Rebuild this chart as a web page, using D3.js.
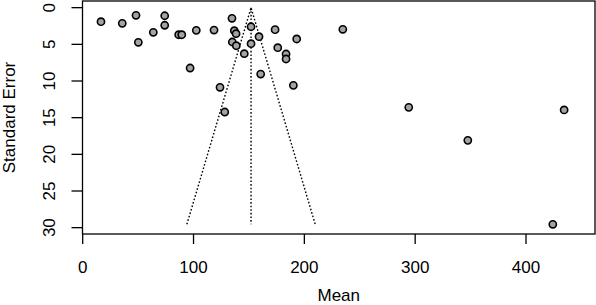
<!DOCTYPE html>
<html>
<head>
<meta charset="utf-8">
<script src="https://cdn.jsdelivr.net/npm/d3@7"></script>
<style>
  body { margin: 0; background: #fff; }
  text { font-family: "Liberation Sans", Arial, sans-serif; fill: #000; }
</style>
</head>
<body>
<div id="chart"></div>
<script>
// study means and standard errors
var means = [16.5, 35.7, 48.1, 50.2, 63.7, 74.0, 74.0, 86.6, 89.4, 96.9,
  102.5, 118.5, 123.9, 128.2, 134.7, 136.8, 138.4, 135.0, 138.6, 145.8,
  151.9, 151.9, 159.1, 160.6, 173.6, 176.0, 183.5, 183.5, 190.1, 193.1,
  234.7, 294.2, 347.5, 434.4, 424.2]
var stdErrors = [1.91, 2.13, 1.04, 4.72, 3.36, 1.10, 2.40, 3.69, 3.69, 8.23,
  3.09, 3.05, 10.86, 14.23, 1.45, 3.14, 3.55, 4.68, 5.19, 6.28,
  2.60, 4.91, 3.96, 9.05, 3.00, 5.46, 6.32, 7.00, 10.59, 4.27,
  2.95, 13.59, 18.09, 13.95, 29.54]

var pooled = [151.9]       // summary estimate (centre line)
var seMax = [29.54]        // funnel reaches down to the largest SE
var xTicks = [0, 100, 200, 300, 400]
var yTicks = [0, 5, 10, 15, 20, 25, 30]

var width = 596, height = 305
var box = {left: 82.5, right: 595, top: 1, bottom: 234}

var svg = d3.select("#chart").append("svg")
  .attr("width", width)
  .attr("height", height)

var xScale = d3.scaleLinear()
  .domain([0, 400])
  .range([82.7, 526])

var yScale = d3.scaleLinear()
  .domain([0, 30])
  .range([7.67, 227.67])

var points = means.map(function(d, i) { return {m: d, se: stdErrors[i]} })

// funnel lines
var z = 1.96
var funnel = [
  [[pooled[0] - z * seMax[0], seMax[0]], [pooled[0], 0], [pooled[0] + z * seMax[0], seMax[0]]],
  [[pooled[0], 0], [pooled[0], seMax[0]]]
]
var line = d3.line()
  .x(function(d) { return xScale(d[0]) })
  .y(function(d) { return yScale(d[1]) })

svg.selectAll("path.funnel")
  .data(funnel)
  .enter()
  .append("path")
    .attr("class", "funnel")
    .attr("d", line)
    .style("fill", "none")
    .style("stroke", "#000")
    .style("stroke-width", 1.4)
    .style("stroke-dasharray", "1.6,2")

// points
svg.selectAll("circle")
  .data(points)
  .enter()
  .append("circle")
    .attr("cx", function(d) { return xScale(d.m) })
    .attr("cy", function(d) { return yScale(d.se) })
    .attr("r", 3.6)
    .style("fill", "#a3a3a3")
    .style("stroke", "#000")
    .style("stroke-width", 1.6)

// box
svg.append("rect")
  .attr("x", box.left)
  .attr("y", box.top)
  .attr("width", box.right - box.left)
  .attr("height", box.bottom - box.top)
  .style("fill", "none")
  .style("stroke", "#000")
  .style("stroke-width", 1.3)

// x axis ticks + labels
var gx = svg.append("g")
gx.selectAll("line")
  .data(xTicks)
  .enter()
  .append("line")
    .attr("x1", function(d) { return xScale(d) })
    .attr("x2", function(d) { return xScale(d) })
    .attr("y1", box.bottom)
    .attr("y2", box.bottom + 10)
    .style("stroke", "#000")
    .style("stroke-width", 1.3)
gx.selectAll("text")
  .data(xTicks)
  .enter()
  .append("text")
    .attr("x", function(d) { return xScale(d) })
    .attr("y", 273)
    .attr("text-anchor", "middle")
    .style("font-size", "17px")
    .text(function(d) { return d })

// y axis ticks + labels
var gy = svg.append("g")
gy.selectAll("line")
  .data(yTicks)
  .enter()
  .append("line")
    .attr("x1", box.left - 11)
    .attr("x2", box.left)
    .attr("y1", function(d) { return yScale(d) })
    .attr("y2", function(d) { return yScale(d) })
    .style("stroke", "#000")
    .style("stroke-width", 1.3)
gy.selectAll("text")
  .data(yTicks)
  .enter()
  .append("text")
    .attr("transform", function(d) { return "translate(55," + yScale(d) + ") rotate(-90)" })
    .attr("text-anchor", "middle")
    .style("font-size", "17px")
    .text(function(d) { return d })

// axis titles
svg.append("text")
  .attr("x", (box.left + box.right) / 2)
  .attr("y", 301)
  .attr("text-anchor", "middle")
  .style("font-size", "17px")
  .text("Mean")

svg.append("text")
  .attr("transform", "translate(15," + (box.top + box.bottom) / 2 + ") rotate(-90)")
  .attr("text-anchor", "middle")
  .style("font-size", "17px")
  .text("Standard Error")
</script>
</body>
</html>
